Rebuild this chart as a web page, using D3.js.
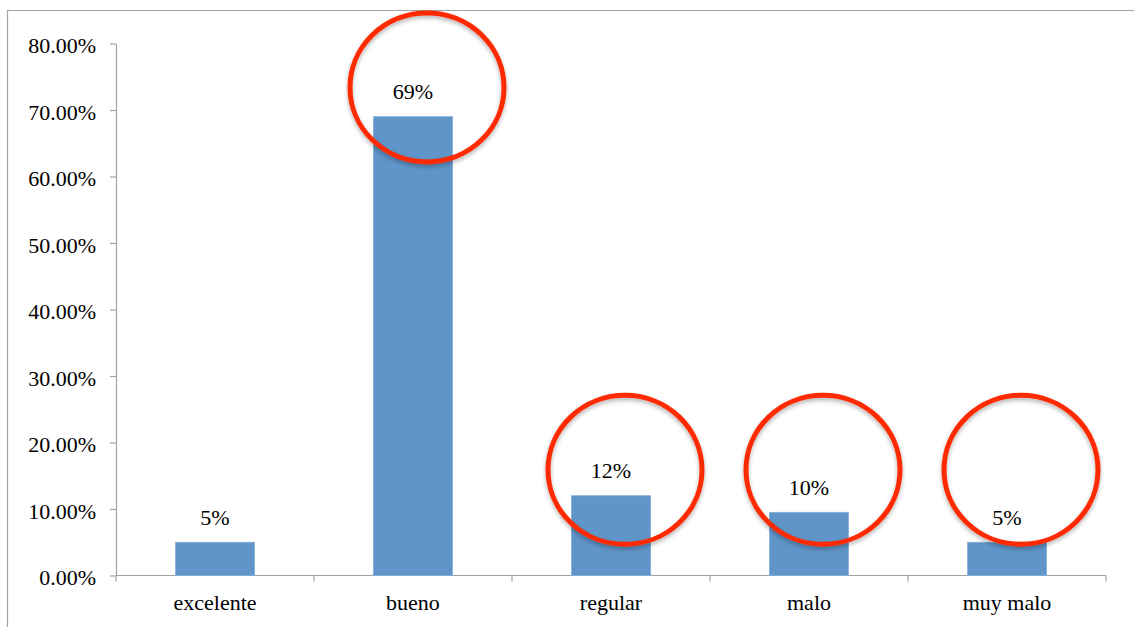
<!DOCTYPE html>
<html>
<head>
<meta charset="utf-8">
<script src="https://cdn.jsdelivr.net/npm/d3@7"></script>
<style>
  html, body { margin: 0; padding: 0; background: #fff; }
  svg { display: block; }
  text { font-family: "Liberation Serif", "Times New Roman", serif; fill: #000; }
</style>
</head>
<body>
<svg id="chart" width="1134" height="627"></svg>
<script>
// Survey ratings and the share of answers for each one (percent)
const categories = ["excelente", "bueno", "regular", "malo", "muy malo"];
const shares = [5, 69, 12, 9.5, 5];
const yTicks = [0, 10, 20, 30, 40, 50, 60, 70, 80];

// Highlight rings: which ratings are circled and the level (percent) each ring centres on
const ringCategories = ["bueno", "regular", "malo", "muy malo"];
const ringLevels = [73.4, 15.9, 15.9, 15.9];

(function draw() {
  const svg = d3.select("#chart");
  const W = 1134, H = 627;
  const plotLeft = 116, plotRight = 1106, plotTop = 43.5, plotBottom = 575.5;
  const axisColor = "#a3a3a3";

  // outer frame (top and left edges)
  svg.append("path")
    .attr("d", `M7.5,${H} V10.5 H${W}`)
    .attr("fill", "none")
    .attr("stroke", axisColor)
    .attr("stroke-width", 1.2);

  const x = d3.scaleBand().domain(categories).range([plotLeft, plotRight]).padding(0);
  const y = d3.scaleLinear().domain([0, 80]).range([plotBottom, plotTop]);

  // y axis
  const yAxis = svg.append("g")
    .attr("transform", `translate(${plotLeft},0)`)
    .call(d3.axisLeft(y).tickValues(yTicks).tickSize(6).tickSizeOuter(0)
      .tickPadding(14).tickFormat(d => d3.format(".2f")(d) + "%"));
  yAxis.attr("font-family", null).attr("font-size", null);
  yAxis.selectAll("path, line").attr("stroke", axisColor).attr("stroke-width", 1.2);
  yAxis.selectAll("text")
    .attr("font-size", 22)
    .attr("dy", "0.42em")
    .attr("fill", "#000");

  // x axis: baseline with boundary ticks between categories
  const boundaries = categories.map(c => x(c)).concat([plotRight]);
  svg.append("line")
    .attr("x1", plotLeft).attr("x2", plotRight)
    .attr("y1", plotBottom).attr("y2", plotBottom)
    .attr("stroke", axisColor).attr("stroke-width", 1.2);
  svg.append("g").selectAll("line")
    .data(boundaries)
    .join("line")
    .attr("x1", d => d).attr("x2", d => d)
    .attr("y1", plotBottom).attr("y2", plotBottom + 6)
    .attr("stroke", axisColor).attr("stroke-width", 1.2);

  svg.append("g").selectAll("text")
    .data(categories)
    .join("text")
    .attr("x", d => x(d) + x.bandwidth() / 2)
    .attr("y", plotBottom + 34.5)
    .attr("text-anchor", "middle")
    .attr("font-size", 22)
    .text(d => d);

  // bars
  const barW = x.bandwidth() * 0.4;
  const data = categories.map((c, i) => ({ c, v: shares[i] }));
  svg.append("g").selectAll("rect")
    .data(data)
    .join("rect")
    .attr("x", d => x(d.c) + (x.bandwidth() - barW) / 2)
    .attr("width", barW)
    .attr("y", d => y(d.v))
    .attr("height", d => y(0) - y(d.v))
    .attr("fill", "#6095c9")
    .attr("stroke", "#86afd9")
    .attr("stroke-width", 0.8);

  // value labels
  svg.append("g").selectAll("text")
    .data(data)
    .join("text")
    .attr("x", d => x(d.c) + x.bandwidth() / 2)
    .attr("y", d => y(d.v) - 17.5)
    .attr("text-anchor", "middle")
    .attr("font-size", 22)
    .text(d => d3.format(".0f")(d.v) + "%");

  // red highlight rings with a soft shadow
  const defs = svg.append("defs");
  const f = defs.append("filter").attr("id", "ringShadow")
    .attr("x", "-20%").attr("y", "-20%").attr("width", "140%").attr("height", "140%");
  f.append("feDropShadow")
    .attr("dx", 0).attr("dy", 2.5).attr("stdDeviation", 2.2)
    .attr("flood-color", "#000").attr("flood-opacity", 0.3);

  const rings = ringCategories.map((c, i) => ({ c, level: ringLevels[i] }));
  svg.append("g").selectAll("ellipse")
    .data(rings)
    .join("ellipse")
    .attr("cx", d => x(d.c) + x.bandwidth() / 2 + 14)
    .attr("cy", d => y(d.level))
    .attr("rx", 77)
    .attr("ry", 74.5)
    .attr("fill", "none")
    .attr("stroke", "#ff2a00")
    .attr("stroke-width", 5)
    .attr("filter", "url(#ringShadow)");
})();
</script>
</body>
</html>
